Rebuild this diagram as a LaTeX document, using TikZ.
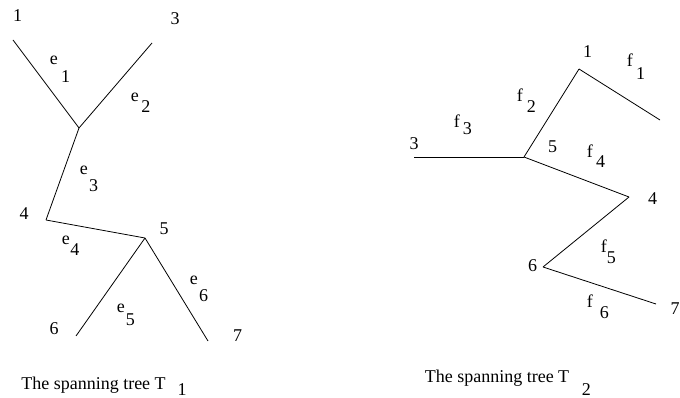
\documentclass[tikz,border=0pt]{standalone}
\usepackage{fontspec}
\setmainfont{Liberation Serif}
\newcommand{\sublab}[4]{#1\hspace{#3pt}\raisebox{-#4pt}{#2}}

\begin{document}
\begin{tikzpicture}[
  x=0.75pt, y=-0.75pt,
  edge/.style={line width=0.6pt},
  vlabel/.style={inner sep=0pt, anchor=base, font=\rmfamily\fontsize{13.5}{16}\selectfont},
  elabel/.style={inner sep=0pt, anchor=base west, font=\rmfamily\fontsize{13.5}{16}\selectfont}
]
  \useasboundingbox (0,0) rectangle (680,398);

  % spanning tree T1
  \coordinate (a1) at (13,40);
  \coordinate (a3) at (152,43);
  \coordinate (aj) at (79,128);
  \coordinate (a4) at (46,220);
  \coordinate (a5) at (145,238);
  \coordinate (a6) at (76,336);
  \coordinate (a7) at (208,341);

  \draw[edge] (a1) -- (aj);
  \draw[edge] (a3) -- (aj);
  \draw[edge] (aj) -- (a4);
  \draw[edge] (a4) -- (a5);
  \draw[edge] (a5) -- (a6);
  \draw[edge] (a5) -- (a7);

  \node[vlabel] (la1) at (17.5,21.5) {1};
  \node[vlabel] (la3) at (175,25) {3};
  \node[vlabel] (la4) at (24,220) {4};
  \node[vlabel] (la5) at (164,235) {5};
  \node[vlabel] (la6) at (54,334) {6};
  \node[vlabel] (la7) at (237.5,341) {7};

  \node[elabel] (e1) at (49.5,65) {\sublab{e}{1}{2.6}{13.5}};
  \node[elabel] (e2) at (130.5,102) {\sublab{e}{2}{1.9}{8.25}};
  \node[elabel] (e3) at (79.5,175) {\sublab{e}{3}{1.1}{12.75}};
  \node[elabel] (e4) at (61.5,245) {\sublab{e}{4}{0.4}{8.25}};
  \node[elabel] (e5) at (116.5,312) {\sublab{e}{5}{0.75}{9.75}};
  \node[elabel] (e6) at (189.5,285) {\sublab{e}{6}{1.1}{12.75}};

  \node[elabel] (cap1) at (21,389) {\sublab{The spanning tree T}{1}{9}{4.5}};

  % spanning tree T2
  \coordinate (b3) at (414,157);
  \coordinate (b5) at (524,157);
  \coordinate (b1) at (579,69);
  \coordinate (bf) at (660,120);
  \coordinate (b4) at (629,197);
  \coordinate (b6) at (543,267);
  \coordinate (b7) at (656,304);

  \draw[edge] (b3) -- (b5);
  \draw[edge] (b5) -- (b1);
  \draw[edge] (b1) -- (bf);
  \draw[edge] (b5) -- (b4);
  \draw[edge] (b4) -- (b6);
  \draw[edge] (b6) -- (b7);

  \node[vlabel] (lb3) at (414,150) {3};
  \node[vlabel] (lb1) at (587.5,58) {1};
  \node[vlabel] (lb5) at (552.5,153) {5};
  \node[vlabel] (lb4) at (652.5,205) {4};
  \node[vlabel] (lb6) at (532.5,272) {6};
  \node[vlabel] (lb7) at (675,315) {7};

  \node[elabel] (f1) at (626.5,67) {\sublab{f}{1}{2.6}{9.75}};
  \node[elabel] (f2) at (516.5,102) {\sublab{f}{2}{3}{8.25}};
  \node[elabel] (f3) at (453.5,128) {\sublab{f}{3}{2.25}{5.25}};
  \node[elabel] (f4) at (586.5,158) {\sublab{f}{4}{2.6}{7.5}};
  \node[elabel] (f5) at (600.5,253) {\sublab{f}{5}{0}{8.25}};
  \node[elabel] (f6) at (586.5,307) {\sublab{f}{6}{5.25}{8.25}};

  \node[elabel] (cap2) at (424.5,382) {\sublab{The spanning tree T}{2}{9.4}{9.75}};
\end{tikzpicture}
\end{document}
